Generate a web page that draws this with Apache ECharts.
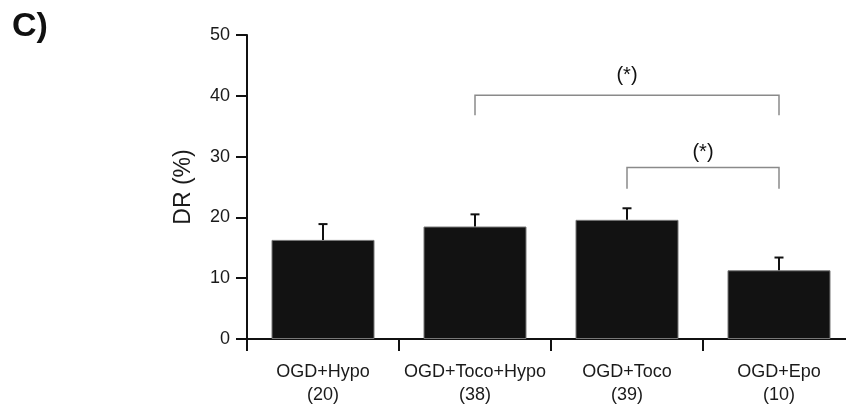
<!DOCTYPE html>
<html>
<head>
<meta charset="utf-8">
<script src="https://cdn.jsdelivr.net/npm/echarts@6/dist/echarts.min.js"></script>
<style>
  html, body { margin: 0; padding: 0; background: #fff; }
  #main { width: 846px; height: 405px; }
</style>
</head>
<body>
<div id="main"></div>
<script>
// data
var groups = ['OGD+Hypo', 'OGD+Toco+Hypo', 'OGD+Toco', 'OGD+Epo'];
var counts = [20, 38, 39, 10];
var means = [16.3, 18.5, 19.6, 11.3];
var errs = [2.6, 2.0, 1.9, 2.1];
// significance brackets: [from group, to group, top, leg bottom, label y]
var brackets = [
  [1, 3, 40.1, 36.8, 43.3],
  [2, 3, 28.2, 24.7, 30.6]
];
var sigLabel = '(*)';

var font = 'Liberation Sans, Arial, sans-serif';

var myChart = echarts.init(document.getElementById('main'));

var cats = groups.map(function(g, i) { return g + '\n(' + counts[i] + ')'; });

var option = {
  animation: false,
  backgroundColor: '#fff',
  title: {
    text: 'C)',
    left: 7, top: 5,
    textStyle: { fontFamily: font, fontSize: 34, fontWeight: 'bold', color: '#111' }
  },
  // plot runs past the right edge, the last category is cut off like in the figure
  grid: { left: 247, right: -9, top: 35, bottom: 66, outerBoundsMode: 'none', containLabel: false },
  xAxis: {
    type: 'category',
    data: cats,
    axisLine: { lineStyle: { color: '#111', width: 2 } },
    axisTick: { show: true, interval: 0, length: 12, lineStyle: { color: '#111', width: 2 } },
    axisLabel: {
      interval: 0,
      fontFamily: font, fontSize: 18, color: '#1a1a1a', lineHeight: 23, margin: 22
    }
  },
  yAxis: {
    type: 'value',
    min: 0, max: 50, interval: 10,
    name: 'DR (%)',
    nameLocation: 'middle',
    nameGap: 52,
    nameTextStyle: { fontFamily: font, fontSize: 23, color: '#1a1a1a' },
    axisLine: { show: true, lineStyle: { color: '#111', width: 2 } },
    axisTick: { show: true, length: 11, lineStyle: { color: '#111', width: 2 } },
    axisLabel: { fontFamily: font, fontSize: 18, color: '#1a1a1a', margin: 17 },
    splitLine: { show: false }
  },
  series: [
    {
      type: 'bar',
      data: means,
      barWidth: 103,
      itemStyle: { color: '#121212', borderColor: '#777', borderWidth: 1 },
      z: 2
    },
    {
      // error bars, upper only
      type: 'custom',
      data: means.map(function(m, i) { return [i, m, m + errs[i]]; }),
      renderItem: function(params, api) {
        var lo = api.coord([api.value(0), api.value(1)]);
        var hi = api.coord([api.value(0), api.value(2)]);
        var cap = 4.5;
        return {
          type: 'group',
          children: [
            { type: 'line', shape: { x1: hi[0], y1: lo[1], x2: hi[0], y2: hi[1] },
              style: { stroke: '#111', lineWidth: 2 } },
            { type: 'line', shape: { x1: hi[0] - cap, y1: hi[1], x2: hi[0] + cap, y2: hi[1] },
              style: { stroke: '#111', lineWidth: 2 } }
          ]
        };
      },
      z: 3
    },
    {
      // significance brackets
      type: 'custom',
      data: brackets,
      renderItem: function(params, api) {
        var a = api.coord([api.value(0), api.value(2)]);
        var b = api.coord([api.value(1), api.value(2)]);
        var bottom = api.coord([api.value(0), api.value(3)])[1];
        var ly = api.coord([api.value(0), api.value(4)])[1];
        return {
          type: 'group',
          children: [
            { type: 'polyline',
              shape: { points: [[a[0], bottom], [a[0], a[1]], [b[0], b[1]], [b[0], bottom]] },
              style: { stroke: '#8a8a8a', lineWidth: 1.5, fill: null } },
            { type: 'text',
              style: { x: (a[0] + b[0]) / 2, y: ly, text: sigLabel, align: 'center',
                verticalAlign: 'middle', fontFamily: font, fontSize: 20, fill: '#111' } }
          ]
        };
      },
      z: 4
    }
  ]
};

myChart.setOption(option);
window.addEventListener('resize', function() {
  myChart.resize();
});
</script>
</body>
</html>
